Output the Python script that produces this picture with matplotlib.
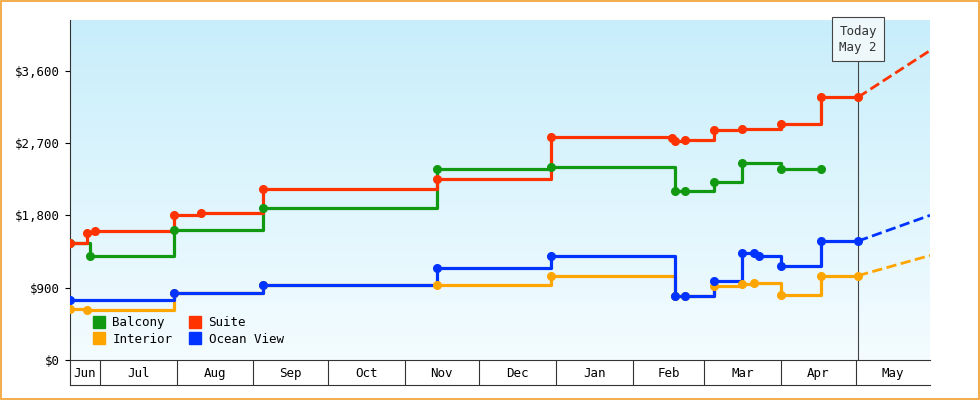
import numpy as np
import matplotlib
matplotlib.use("Agg")
import matplotlib.pyplot as plt
from matplotlib.colors import LinearSegmentedColormap
import datetime as dt

plt.rcParams["font.family"] = ["DejaVu Sans Mono"]

def d(s):
    return dt.datetime.strptime(s, "%Y-%m-%d")

# change points (date, price) for each cabin type
suite_dates = ["2023-06-19", "2023-06-26", "2023-06-29", "2023-07-31", "2023-08-11", "2023-09-05",
               "2023-11-14", "2023-12-30", "2024-02-17", "2024-02-18", "2024-02-22", "2024-03-05",
               "2024-03-16", "2024-04-01", "2024-04-17", "2024-05-02"]
suite_vals = [1450, 1580, 1600, 1800, 1830, 2130, 2250, 2770, 2760, 2720, 2740, 2860, 2880, 2930, 3270, 3270]

balcony_dates = ["2023-06-19", "2023-06-27", "2023-07-31", "2023-09-05", "2023-11-14", "2023-12-30",
                 "2024-02-18", "2024-02-22", "2024-03-05", "2024-03-16", "2024-04-01", "2024-04-17"]
balcony_vals = [1450, 1300, 1620, 1890, 2380, 2400, 2100, 2100, 2220, 2450, 2380, 2380]

ocean_dates = ["2023-06-19", "2023-07-31", "2023-09-05", "2023-11-14", "2023-12-30", "2024-02-18",
               "2024-02-22", "2024-03-05", "2024-03-16", "2024-03-21", "2024-03-23", "2024-04-01",
               "2024-04-17", "2024-05-02"]
ocean_vals = [750, 830, 930, 1140, 1290, 800, 800, 980, 1330, 1330, 1290, 1170, 1480, 1480]

interior_dates = ["2023-06-19", "2023-06-26", "2023-07-31", "2023-09-05", "2023-11-14", "2023-12-30",
                  "2024-02-18", "2024-02-22", "2024-03-05", "2024-03-16", "2024-03-21", "2024-04-01",
                  "2024-04-17", "2024-05-02"]
interior_vals = [640, 620, 830, 930, 930, 1050, 800, 800, 920, 950, 960, 810, 1050, 1050]

# dashed projections from today
proj_end = "2024-05-31"
suite_proj = 3850
ocean_proj = 1800
interior_proj = 1300

today = "2024-05-02"

colors = {"Balcony": "#119911", "Suite": "#ff3300", "Interior": "#ffa500", "Ocean View": "#0033ff"}

fig = plt.figure(figsize=(9.8, 4.0), dpi=100)
fig.patch.set_facecolor("white")
fig.add_artist(plt.Rectangle((0.001, 0.002), 0.998, 0.996, transform=fig.transFigure,
                             fill=False, edgecolor="#f0a030", lw=1.2))
ax = fig.add_axes([70 / 980, 40 / 400, 860 / 980, 340 / 400])

# background gradient
cmap = LinearSegmentedColormap.from_list("bg", ["#f4fcff", "#c8eefb"])
ax.imshow(np.linspace(0, 1, 256).reshape(-1, 1), aspect="auto", cmap=cmap, origin="lower",
          extent=[0, 1, 0, 1], transform=ax.transAxes, zorder=0)

series = {"Suite": (suite_dates, suite_vals), "Balcony": (balcony_dates, balcony_vals),
          "Ocean View": (ocean_dates, ocean_vals), "Interior": (interior_dates, interior_vals)}
for name in ["Interior", "Balcony", "Suite", "Ocean View"]:
    ds, vs = series[name]
    xs = [d(s) for s in ds]
    ax.step(xs, vs, where="post", color=colors[name], lw=2.3, zorder=3)
    ax.plot(xs, vs, "o", color=colors[name], ms=5.5, zorder=4)

for name, pv in [("Suite", suite_proj), ("Ocean View", ocean_proj), ("Interior", interior_proj)]:
    vs = series[name][1]
    ax.plot([d(today), d(proj_end)], [vs[-1], pv], "--", color=colors[name], lw=2, zorder=3)

# today marker
ax.axvline(d(today), color="#444444", lw=0.8, zorder=2)
ax.text(d(today), 3990, "Today\nMay 2", ha="center", va="center", fontsize=9, color="#333333",
        linespacing=1.3,
        bbox=dict(boxstyle="square,pad=0.6", fc="#eef8fb", ec="#444444", lw=0.8), zorder=5)

ax.set_xlim(d("2023-06-19"), d(proj_end))
ax.set_ylim(0, 4230)
ax.set_yticks([0, 900, 1800, 2700, 3600])
ax.set_yticklabels(["$0", "$900", "$1,800", "$2,700", "$3,600"], fontsize=9)

month_starts = [d("2023-07-01"), d("2023-08-01"), d("2023-09-01"), d("2023-10-01"), d("2023-11-01"),
                d("2023-12-01"), d("2024-01-01"), d("2024-02-01"), d("2024-03-01"), d("2024-04-01"),
                d("2024-05-01")]
month_names = ["Jun", "Jul", "Aug", "Sep", "Oct", "Nov", "Dec", "Jan", "Feb", "Mar", "Apr", "May"]
bounds = [d("2023-06-19")] + month_starts + [d(proj_end)]
mids = [a + (b - a) / 2 for a, b in zip(bounds[:-1], bounds[1:])]
ax.set_xticks(month_starts)
ax.set_xticklabels([])
ax.tick_params(axis="x", which="major", length=18, width=0.8, color="#333333")
ax.set_xticks(mids, minor=True)
ax.set_xticklabels(month_names, minor=True, fontsize=9)
ax.tick_params(axis="x", which="minor", length=0, pad=5)
ax.plot([0, 1], [-25 / 340, -25 / 340], transform=ax.transAxes, color="#333333", lw=0.8, clip_on=False)
ax.plot([0, 0], [0, -25 / 340], transform=ax.transAxes, color="#333333", lw=0.8, clip_on=False)

for s in ["top", "right"]:
    ax.spines[s].set_visible(False)
ax.spines["bottom"].set_color("#333333")
ax.spines["left"].set_color("#333333")

names = ["Balcony", "Interior", "Suite", "Ocean View"]
handles = [plt.Line2D([], [], marker="s", ls="", color=colors[n], ms=9) for n in names]
ax.legend(handles, names, ncol=2, loc="lower left",
          bbox_to_anchor=(0.01, 0.02), frameon=False, fontsize=9, handletextpad=0.1,
          columnspacing=0.8, labelspacing=0.3, borderaxespad=0.2)

fig.savefig("out.png", dpi=100)
